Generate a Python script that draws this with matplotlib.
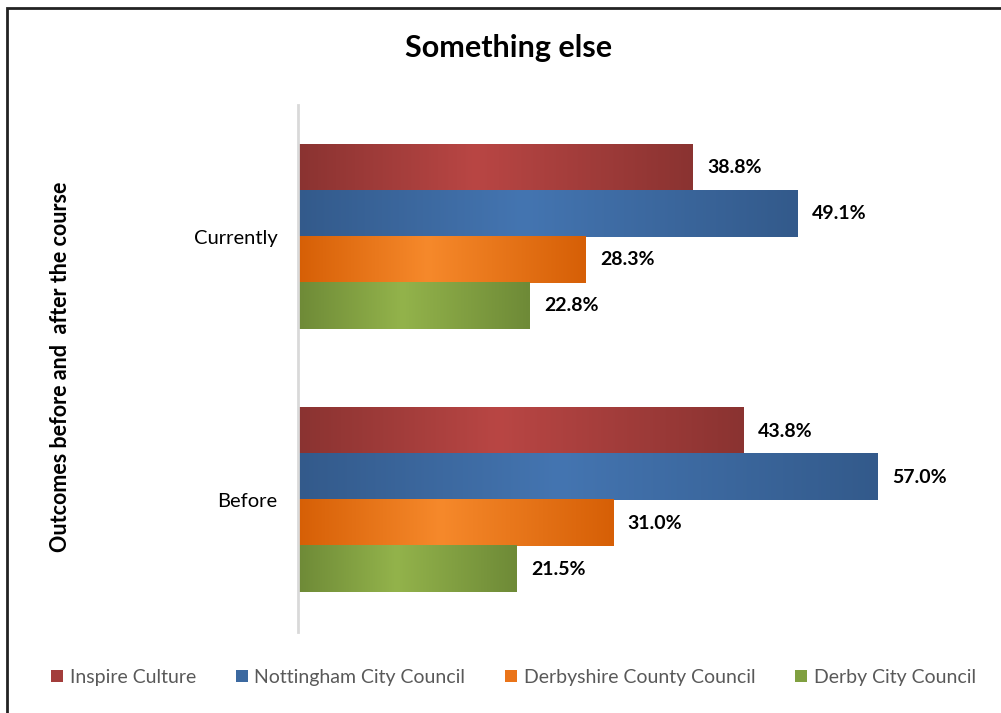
import matplotlib.pyplot as plt
import numpy as np
from matplotlib.colors import LinearSegmentedColormap
from matplotlib.patches import Patch, Rectangle

plt.rcParams['font.family'] = ['Lato', 'DejaVu Sans']

# Data
categories = ['Before', 'Currently']
series = ['Inspire Culture', 'Nottingham City Council',
          'Derbyshire County Council', 'Derby City Council']
values = {
    'Inspire Culture': [43.8, 38.8],
    'Nottingham City Council': [57.0, 49.1],
    'Derbyshire County Council': [31.0, 28.3],
    'Derby City Council': [21.5, 22.8],
}

# dark edge / light centre colours for the gradient look
dark = ['#8A3331', '#335A8B', '#D65F06', '#6E8A37']
light = ['#B94644', '#4475B1', '#F6892B', '#93B34B']
legend_col = ['#A33D3B', '#3C69A0', '#EA7419', '#80A040']

fig = plt.figure(figsize=(10.01, 7.13), dpi=100)
ax = fig.add_axes([0.2982, 0.1136, 0.6094, 0.7391])

h = 0.1746
offsets = [0.262, 0.087, -0.087, -0.262]
grad = np.linspace(0, 1, 256).reshape(1, -1)

for i, s in enumerate(series):
    cmap = LinearSegmentedColormap.from_list(
        s, [(0, dark[i]), (0.45, light[i]), (1, dark[i])])
    for j, v in enumerate(values[s]):
        y = j + offsets[i]
        ax.imshow(grad, extent=[0, v, y - h / 2, y + h / 2], cmap=cmap,
                  aspect='auto', zorder=2)
        ax.annotate(f'{v:.1f}%', (v, y), xytext=(10, 0),
                    textcoords='offset points', va='center', ha='left',
                    fontsize=14, fontweight='bold', color='black')

ax.set_xlim(0, 60)
ax.set_ylim(-0.5, 1.5)
ax.set_yticks(range(len(categories)))
ax.set_yticklabels(categories, fontsize=14.5)
ax.tick_params(axis='y', length=0, pad=15)
ax.set_xticks([])
for side in ['top', 'right', 'bottom']:
    ax.spines[side].set_visible(False)
ax.spines['left'].set_color('#D9D9D9')
ax.spines['left'].set_linewidth(2)
ax.spines['left'].set_zorder(3)

fig.text(0.508, 0.933, 'Something else', ha='center', va='center',
         fontsize=22, fontweight='bold')
fig.text(0.060, 0.486, 'Outcomes before and  after the course', rotation=90,
         ha='center', va='center', fontsize=15.5, fontweight='bold')

handles = [Patch(facecolor=c, edgecolor='none') for c in legend_col]
fig.legend(handles, series, loc='center', bbox_to_anchor=(0.513, 0.050),
           ncol=4, frameon=False, fontsize=14, labelcolor='#595959',
           handlelength=0.6, handleheight=0.6, handletextpad=0.35,
           columnspacing=2.05)

# chart border
fig.patches.append(Rectangle((7 / 1001, -0.05), 1.1, 1 - 8 / 713 + 0.05,
                             transform=fig.transFigure, fill=False,
                             edgecolor='#222222', linewidth=2))

fig.savefig('out.png', dpi=100)
